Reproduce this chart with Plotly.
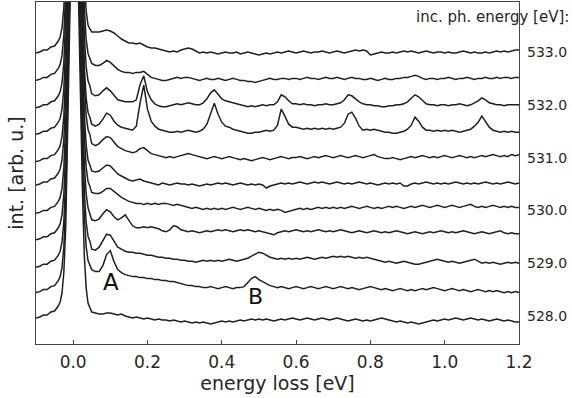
import numpy as np
import plotly.graph_objects as go

# ---------------- data ----------------
X_LEFT = [-0.10, -0.09, -0.08, -0.07, -0.06, -0.05, -0.04]
X_CORE = [-0.035, -0.03, -0.025, -0.02, -0.015, -0.01, -0.005, 0.0, 0.005,
          0.01, 0.015, 0.02, 0.025, 0.03, 0.035, 0.04, 0.045]
X_MAIN = np.round(np.arange(0.05, 1.2001, 0.01), 3).tolist()
X = X_LEFT + X_CORE + X_MAIN

# elastic line (common to all spectra), heights above each spectrum's baseline
ELASTIC = [0, 1, 2, 3, 5, 7, 11,
           15, 24, 45, 90, 170, 280, 380, 430, 440, 400, 300, 210, 125, 60, 28, 13, 8,
           5, 3, 2, 1, 1, 0]

ENERGIES = [528.0, 528.5, 529.0, 529.5, 530.0, 530.5, 531.0, 531.5, 532.0, 532.5, 533.0]
OFFSETS = [28.0, 54.4, 80.8, 107.2, 133.6, 160.0, 186.4, 212.8, 239.2, 265.6, 292.0]
RIGHT_TICKS = [28.0, 80.8, 133.6, 186.4, 239.2, 292.0]
RIGHT_LABELS = ["528.0", "529.0", "530.0", "531.0", "532.0", "533.0"]
X_TICKS = [0.0, 0.2, 0.4, 0.6, 0.8, 1.0, 1.2]
X_TICKTEXT = ["0.0", "0.2", "0.4", "0.6", "0.8", "1.0", "1.2"]

R_528_0 = [-2, -2, -1, -2, -1, -2, -1,
           -1, -1, -1, -1, -1, -1, -1, -1,
           -1, -1, 0, 0, 0, 0, 0, 0, 0,
           -1, 0, 0, 1, 2,
           3, 2, 1, 2, 0, -1, -2, -1, -2, -3,
           -2, -3, -4, -3, -4, -4, -5, -4, -5, -6,
           -5, -6, -7, -6, -7, -6, -7, -8, -7, -6,
           -5, -6, -5, -6, -5, -4, -5, -4, -3, -4,
           -3, -4, -3, -4, -5, -4, -3, -4, -3, -2,
           -3, -4, -3, -2, -3, -4, -3, -2, -3, -4,
           -3, -2, -3, -4, -5, -4, -3, -4, -5, -4,
           -5, -4, -3, -2, -3, -4, -5, -6, -5, -6,
           -7, -6, -7, -8, -7, -6, -5, -4, -5, -4,
           -3, -4, -3, -2, -3, -4, -3, -2, -3, -4,
           -3, -4, -5, -4, -3, -4, -5, -4, -5, -6,
           -6]
R_528_5 = [-3, -3, -2, -3, -2, -3, -2,
           -2, -2, -2, -2, -2, -2, -2, -2,
           1, 4, 7, 10, 12, 14, 15, 16, 17,
           15, 15, 16, 23, 34,
           39, 28, 20, 17, 15, 14, 13, 13, 12, 12,
           11, 11, 10, 10, 9, 9, 8, 8, 7, 6,
           5, 4, 4, 3, 3, 2, 2, 3, 2, 1,
           2, 3, 2, 1, 2, 2, 3, 7, 11, 13,
           10, 8, 6, 4, 3, 2, 3, 2, 1, 2,
           3, 2, 1, 2, 3, 2, 1, 2, 3, 2,
           1, 2, 3, 2, 1, 2, 1, 0, 1, 2,
           3, 2, 1, 0, 1, 0, -1, 0, 1, 0,
           -1, 0, -1, 0, 1, 0, 1, 2, 1, 0,
           -1, 0, 1, 0, -1, 0, -1, -2, -1, 0,
           -1, -2, -1, -2, -1, -2, -3, -2, -3, -2,
           -3]
R_529_0 = [-4, -4, -3, -4, -3, -4, -3,
           -3, -3, -3, -3, -3, -3, -3, -3,
           0, 3, 6, 9, 11, 12, 13, 14, 14,
           9, 10, 14, 21, 28,
           28, 22, 16, 14, 12, 11, 11, 10, 10, 9,
           8, 8, 7, 6, 6, 5, 5, 4, 4, 3,
           3, 2, 2, 1, 2, 3, 2, 3, 2, 3,
           2, 3, 4, 3, 2, 3, 4, 5, 7, 9,
           11, 10, 8, 6, 5, 4, 5, 4, 5, 4,
           5, 4, 5, 6, 5, 4, 5, 6, 5, 6,
           7, 6, 7, 6, 7, 6, 5, 6, 5, 6,
           5, 4, 3, 2, 1, 2, 1, 0, 1, 2,
           1, 0, -1, -1, 0, 1, 2, 3, 4, 3,
           2, 1, 2, 1, 0, 1, 2, 3, 4, 2,
           0, 1, 0, 1, 0, -1, 0, 1, 0, 1,
           0]
R_529_5 = [-3, -3, -2, -3, -2, -3, -2,
           -2, -2, -2, -2, -2, -2, -2, -2,
           1, 4, 7, 10, 12, 14, 15, 16, 16,
           12, 13, 16, 22, 26,
           25, 20, 17, 19, 22, 17, 11, 9, 9, 10,
           9, 10, 9, 8, 6, 5, 7, 11, 10, 7,
           6, 5, 6, 5, 4, 5, 6, 5, 6, 7,
           6, 7, 6, 5, 6, 7, 6, 7, 6, 5,
           6, 5, 4, 3, 2, 4, 5, 6, 5, 6,
           7, 6, 5, 6, 5, 6, 7, 6, 5, 6,
           5, 6, 7, 6, 5, 4, 5, 6, 5, 4,
           5, 6, 5, 4, 5, 4, 5, 6, 5, 4,
           3, 4, 5, 4, 3, 4, 5, 4, 5, 6,
           5, 4, 5, 4, 5, 6, 5, 4, 3, 4,
           5, 4, 3, 4, 5, 6, 4, 3, 4, 3,
           3]
R_530_0 = [-3, -3, -2, -3, -2, -3, -2,
           -2, -2, -2, -2, -2, -2, -2, -2,
           1, 4, 7, 10, 12, 14, 15, 16, 16,
           13, 14, 15, 18, 21,
           22, 19, 16, 13, 11, 9, 8, 7, 7, 6,
           7, 6, 7, 6, 7, 7, 6, 5, 6, 5,
           4, 3, 2, 3, 2, 1, 2, 1, 2, 1,
           2, 1, 2, 3, 2, 1, 2, 3, 2, 1,
           2, 1, 0, 1, 0, 1, 0, -2, -1, 0,
           1, 2, 1, 2, 1, 2, 3, 2, 3, 2,
           3, 2, 3, 2, 3, 4, 3, 2, 3, 4,
           3, 2, 3, 2, 3, 4, 3, 4, 3, 2,
           3, 4, 3, 4, 5, 4, 3, 4, 5, 4,
           3, 4, 5, 4, 3, 4, 5, 6, 4, 3,
           4, 3, 4, 5, 4, 3, 4, 3, 4, 3,
           3]
R_530_5 = [-1, -1, 0, -1, 0, -1, 0,
           0, 0, 0, 0, 0, 0, 0, 0,
           2, 4, 6, 8, 9, 10, 11, 11, 11,
           8, 9, 11, 15, 18,
           18, 14, 10, 8, 6, 4, 3, 4, 5, 3,
           2, 1, 0, -1, 1, 0, -1, 0, 1, 0,
           0, -1, 0, -1, -2, -1, 0, -1, 0, 1,
           0, 1, 0, -1, 0, 1, 0, -1, 0, -1,
           0, -1, -4, -2, -1, 0, 1, 0, 1, 0,
           1, 2, 1, 0, 1, 2, 1, 2, 1, 0,
           1, 2, 1, 0, 1, 0, 1, 2, 1, 0,
           1, 0, -1, 0, 1, 0, 1, 0, 1, -2,
           -2, 0, 1, 0, 1, 2, 1, 0, 1, 0,
           1, 0, 1, 2, 1, 0, 1, 0, 1, 0,
           1, 2, 1, 0, 1, 0, 1, 2, 1, 0,
           1]
R_531_0 = [-4, -4, -3, -4, -3, -4, -3,
           -3, -3, -3, -3, -3, -3, -3, -3,
           0, 3, 6, 9, 11, 13, 14, 15, 15,
           9, 9, 12, 17, 20,
           20, 15, 11, 9, 7, 6, 5, 6, 9, 10,
           7, 4, 3, 2, 1, 0, 1, 0, 1, 2,
           3, 4, 3, 2, 1, 0, -1, 0, 1, 0,
           -1, 0, 1, 0, -1, -2, -1, -2, -3, -2,
           -1, 0, -1, -2, -1, 0, 1, 0, -1, 0,
           0, 1, 0, -1, 0, 1, 0, 1, 2, 1,
           0, 1, 2, 1, 0, 1, 2, 1, 0, 1,
           2, 3, 1, 0, -1, -1, 0, -1, -2, -1,
           0, 1, 0, 1, 2, 1, 0, 1, 0, 1,
           2, 1, 0, 1, 2, 1, 0, 1, 0, 1,
           2, 1, 2, 3, 2, 1, 2, 1, 3, 2,
           3]
R_531_5 = [-3, -3, -2, -3, -2, -3, -2,
           -2, -2, -2, -2, -2, -2, -2, -2,
           0, 1, 2, 3, 4, 5, 5, 6, 6,
           2, 2, 5, 11, 17,
           16, 10, 6, 4, 3, 2, 1, 5, 28, 46,
           22, 10, 5, 2, 1, 0, -1, -1, 0, -1,
           0, 1, 0, -1, 0, 2, 7, 18, 28, 17,
           9, 5, 4, 2, 1, 0, -1, -2, -2, -1,
           -1, 0, 1, 0, 1, 6, 22, 15, 7, 4,
           4, 3, 2, 3, 2, 3, 2, 3, 2, 3,
           2, 3, 4, 8, 17, 19, 13, 5, 1, 2,
           1, 2, 1, 0, -1, -1, -2, -2, -1, 0,
           2, 6, 14, 10, 4, 1, 1, 0, 1, 0,
           1, 0, 1, 0, -1, 0, 1, 2, 5, 9,
           15, 9, 4, 1, 0, -1, 0, -1, 0, -1,
           -1]
R_532_0 = [-3, -3, -2, -3, -2, -3, -2,
           -2, -2, -2, -2, -2, -2, -2, -2,
           0, 2, 4, 6, 8, 9, 10, 11, 11,
           6, 6, 8, 13, 16,
           14, 9, 5, 4, 3, 3, 3, 5, 20, 29,
           13, 5, 1, -1, -2, -2, -1, 0, 1, 0,
           1, 2, 1, 0, 0, 2, 6, 12, 15, 10,
           6, 4, 3, 2, 1, 0, -1, -2, -1, -2,
           -1, 0, -1, 0, 0, 3, 10, 8, 4, 1,
           1, 0, 1, 0, 0, -1, 0, 0, 1, 0,
           0, 1, 2, 5, 10, 9, 6, 3, 1, 0,
           0, -1, -1, -2, -2, -1, -1, 0, 0, 1,
           3, 7, 10, 8, 4, 1, 0, 0, -1, 0,
           0, -1, 0, 0, 1, 0, -1, 0, 2, 4,
           7, 5, 2, 1, 0, 0, -1, 0, 0, 0,
           0]
R_532_5 = [-2, -2, -1, -2, -1, -2, -1,
           -1, -1, -1, -1, -1, -1, -1, -1,
           1, 3, 5, 7, 9, 10, 11, 12, 12,
           10, 10, 11, 14, 17,
           16, 12, 9, 7, 6, 6, 5, 6, 6, 7,
           4, 1, 0, -1, -2, -2, -1, 0, 1, 0,
           1, 1, 0, -1, -2, -1, 0, -1, -1, 0,
           -1, -2, -1, 0, -1, -2, -2, -3, -3, -4,
           -3, -2, -1, 0, -1, -1, 0, 0, -1, 0,
           0, -1, 0, 1, 0, 0, -1, 0, 1, 0,
           0, 1, 0, -1, 0, 1, 0, 0, -1, -1,
           0, -1, -2, -1, 0, -1, -1, 0, 0, 1,
           1, 2, 3, 2, 0, -1, 0, 0, -1, 0,
           0, 1, 0, -1, 0, 0, 1, 0, -1, 0,
           0, 1, 0, 0, 1, 0, 1, 1, 0, 1,
           1]
R_533_0 = [-1, -1, 0, -1, 0, -1, 0,
           0, 0, 0, 0, 0, 0, 0, 0,
           2, 4, 6, 8, 10, 12, 13, 14, 15,
           15, 17, 18, 20, 21,
           21, 19, 16, 13, 11, 9, 9, 8, 9, 7,
           5, 4, 4, 3, 2, 1, 0, 1, 0, 2,
           3, 4, 3, 1, -1, 0, -1, 0, -1, -2,
           -1, 0, -1, -1, 0, -2, -1, 0, -1, -2,
           -3, -2, -1, -2, -1, 0, -1, 0, 1, 0,
           -1, 0, 1, 0, -1, 0, 0, 1, 0, -1,
           0, 1, 0, -1, 0, 1, 2, 1, 2, 1,
           -3, -2, -1, 0, -1, -1, 0, -1, 0, 1,
           0, 1, 0, -1, 0, 1, 0, -1, 0, 0,
           -1, 0, -1, -1, 0, 1, 0, -1, 0, -1,
           -1, 0, -1, 0, 1, 0, 1, 0, 1, 2,
           2]

SPECTRA = [R_528_0, R_528_5, R_529_0, R_529_5, R_530_0, R_530_5,
           R_531_0, R_531_5, R_532_0, R_532_5, R_533_0]

# ---------------- figure ----------------
ELASTIC_FULL = ELASTIC + [0] * (len(X) - len(ELASTIC))
LINE_COLOR = "#1f1f1f"
FONT = "DejaVu Sans"

fig = go.Figure()
for energy, offset, resid in zip(ENERGIES, OFFSETS, SPECTRA):
    assert len(resid) == len(X), (energy, len(resid))
    y = [offset + e + r for e, r in zip(ELASTIC_FULL, resid)]
    fig.add_trace(go.Scatter(x=X, y=y, mode="lines", name=f"{energy:.1f} eV",
                             line=dict(color=LINE_COLOR, width=1.5),
                             showlegend=False, hoverinfo="skip"))

# invisible trace carrying the right-hand axis (incident energies)
fig.add_trace(go.Scatter(x=[1.2] * len(RIGHT_TICKS), y=RIGHT_TICKS, yaxis="y2",
                         mode="markers", marker=dict(opacity=0),
                         showlegend=False, hoverinfo="skip"))

fig.update_layout(
    width=572, height=398,
    margin=dict(l=36, r=53, t=2, b=54),
    paper_bgcolor="white", plot_bgcolor="white",
    font=dict(family=FONT, color="#262626"),
    xaxis=dict(range=[-0.1, 1.2], tickvals=X_TICKS, ticktext=X_TICKTEXT,
               ticks="inside", ticklen=4, tickcolor="#444", automargin=False,
               ticklabelstandoff=3,
               showline=True, linecolor="#444", linewidth=1, mirror=True,
               showgrid=False, zeroline=False,
               tickfont=dict(size=17, family=FONT, color="#262626"),
               title=dict(text="energy loss [eV]", font=dict(size=19, family=FONT),
                          standoff=4)),
    yaxis=dict(range=[0, 342], showticklabels=False, ticks="", automargin=False,
               showline=True, linecolor="#444", linewidth=1, mirror=True,
               showgrid=False, zeroline=False,
               title=dict(text="int. [arb. u.]", font=dict(size=19, family=FONT),
                          standoff=6)),
    yaxis2=dict(range=[0, 342], overlaying="y", side="right", automargin=False,
                tickvals=RIGHT_TICKS, ticktext=RIGHT_LABELS, ticks="",
                ticklabelstandoff=7,
                showline=False, showgrid=False, zeroline=False,
                tickfont=dict(size=14, family=FONT, color="#262626")),
    annotations=[
        dict(x=0.102, y=62, xref="x", yref="y", text="A", showarrow=False,
             font=dict(size=23, family=FONT, color="#111")),
        dict(x=0.492, y=48, xref="x", yref="y", text="B", showarrow=False,
             font=dict(size=22, family=FONT, color="#111")),
        dict(x=(571 - 36) / 483, y=(344 - 17) / 342, xref="paper", yref="paper",
             xanchor="right", yanchor="middle", text="inc. ph. energy [eV]:",
             showarrow=False, font=dict(size=15, family=FONT, color="#262626")),
    ],
)

fig.write_html("out.html", config={"displayModeBar": False},
               post_script="document.body.style.margin='0';"
                           "document.body.style.padding='0';")
